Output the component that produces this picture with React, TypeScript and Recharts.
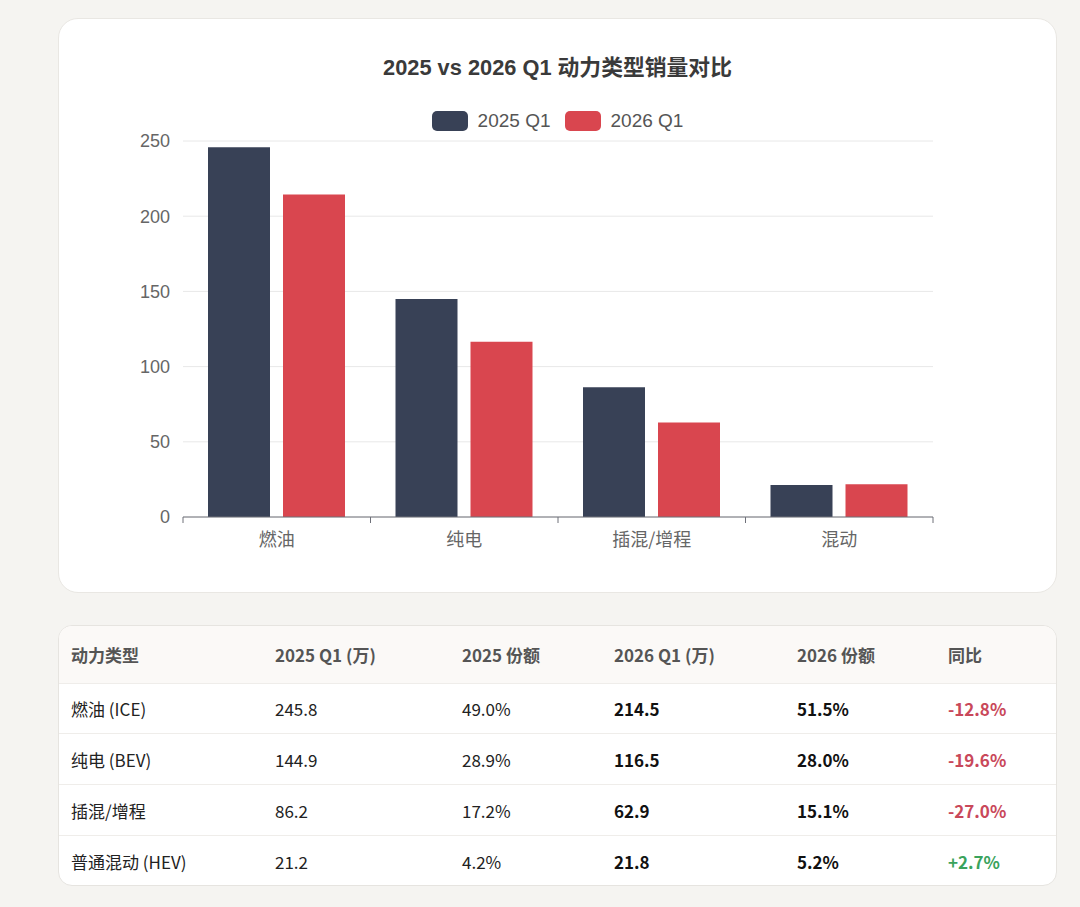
import React from 'react';
import { BarChart, Bar, XAxis, YAxis, CartesianGrid } from 'recharts';

const categories = ['燃油', '纯电', '插混/增程', '混动'];
const sales2025 = [245.8, 144.9, 86.2, 21.2];
const sales2026 = [214.5, 116.5, 62.9, 21.8];
const yTicks = [0, 50, 100, 150, 200, 250];

const tableNames = ['燃油 (ICE)', '纯电 (BEV)', '插混/增程', '普通混动 (HEV)'];
const share2025 = ['49.0%', '28.9%', '17.2%', '4.2%'];
const share2026 = ['51.5%', '28.0%', '15.1%', '5.2%'];
const yoy = ['-12.8%', '-19.6%', '-27.0%', '+2.7%'];
const headers = ['动力类型', '2025 Q1 (万)', '2025 份额', '2026 Q1 (万)', '2026 份额', '同比'];

const data = categories.map((c, i) => ({ name: c, q2025: sales2025[i], q2026: sales2026[i] }));

const C_DARK = '#384156';
const C_RED = '#d9464f';
const CARD_W = 999;
const CHART_H = 575;
const MARGIN = { top: 122, right: 125, bottom: 47, left: 64 };
const Y_W = 60;
const PLOT_W = CARD_W - MARGIN.left - MARGIN.right - Y_W;
const BAND = PLOT_W / categories.length;

const latin = "'Liberation Sans', 'Noto Sans CJK SC', sans-serif";
const cjk = "'Noto Sans CJK SC', 'Noto Sans', sans-serif";

const XTick = (props: any) => {
  const { x, y, payload, index } = props;
  const last = index === categories.length - 1;
  return (
    <g>
      <line x1={x - BAND / 2} x2={x - BAND / 2} y1={y} y2={y + 6} stroke="#6e7079" strokeWidth={1} />
      {last && <line x1={x + BAND / 2} x2={x + BAND / 2} y1={y} y2={y + 6} stroke="#6e7079" strokeWidth={1} />}
      <text x={x} y={y + 21} textAnchor="middle" dominantBaseline="central" fill="#666" fontSize={18} fontFamily={cjk}>
        {payload.value}
      </text>
    </g>
  );
};

const colX = [12, 216, 403, 555, 738, 889];

export default function App() {
  return (
    <div style={{ position: 'absolute', left: 0, top: 0, width: 1080, height: 907, background: '#f5f4f1', overflow: 'hidden' }}>
      <div style={{ position: 'absolute', left: 58, top: 18, width: CARD_W, height: CHART_H, background: '#fff', borderRadius: 20, border: '1px solid #e9e7e3', boxSizing: 'border-box' }}>
        <div style={{ position: 'absolute', left: 0, top: 34, width: CARD_W - 2, textAlign: 'center', fontFamily: latin, fontWeight: 700, fontSize: 21.8, color: '#3a3a3a', lineHeight: '30px' }}>
          2025 vs 2026 Q1 动力类型销量对比
        </div>
        <div style={{ position: 'absolute', left: 0, top: 91, width: CARD_W - 2, height: 22, display: 'flex', justifyContent: 'center', alignItems: 'center', fontFamily: latin, fontSize: 19, color: '#555' }}>
          <span style={{ display: 'inline-block', width: 36, height: 20, borderRadius: 5, background: C_DARK, marginRight: 10 }} />
          <span style={{ marginRight: 14 }}>2025 Q1</span>
          <span style={{ display: 'inline-block', width: 36, height: 20, borderRadius: 5, background: C_RED, marginRight: 10 }} />
          <span>2026 Q1</span>
        </div>
        <div style={{ position: 'absolute', left: 0, top: 0 }}>
          <BarChart width={CARD_W} height={CHART_H} data={data} margin={MARGIN} barGap={13} barSize={62}>
            <CartesianGrid vertical={false} stroke="#e8e8e8" />
            <YAxis
              width={Y_W}
              domain={[0, 250]}
              ticks={yTicks}
              axisLine={false}
              tickLine={false}
              tickMargin={7}
              tick={{ fill: '#666', fontSize: 18, fontFamily: latin }}
            />
            <XAxis
              dataKey="name"
              height={30}
              axisLine={{ stroke: '#6e7079' }}
              tickLine={false}
              tickSize={0}
              tickMargin={0}
              tick={<XTick />}
              interval={0}
            />
            <Bar dataKey="q2025" fill={C_DARK} isAnimationActive={false} />
            <Bar dataKey="q2026" fill={C_RED} isAnimationActive={false} />
          </BarChart>
        </div>
      </div>

      <div style={{ position: 'absolute', left: 58, top: 625, width: CARD_W, height: 261, background: '#fff', borderRadius: 14, border: '1px solid #e6e4e0', boxSizing: 'border-box', overflow: 'hidden', fontFamily: cjk, fontSize: 17 }}>
        <div style={{ position: 'absolute', left: 0, top: 0, width: CARD_W, height: 57, background: '#fbf9f7', borderBottom: '1px solid #efedea' }}>
          {headers.map((h, i) => (
            <div key={h} style={{ position: 'absolute', left: colX[i], top: 0, height: 57, lineHeight: '57px', fontWeight: 700, color: '#555' }}>{h}</div>
          ))}
        </div>
        {tableNames.map((n, r) => {
          const cells = [n, sales2025[r].toFixed(1), share2025[r], sales2026[r].toFixed(1), share2026[r], yoy[r]];
          return (
            <div key={n} style={{ position: 'absolute', left: 0, top: 57 + r * 51, width: CARD_W, height: 51, borderBottom: r < 3 ? '1px solid #efedea' : 'none', boxSizing: 'border-box' }}>
              {cells.map((c, i) => (
                <div key={i} style={{
                  position: 'absolute', left: colX[i], top: 0, height: 51, lineHeight: '51px',
                  fontWeight: i === 3 || i === 4 || i === 5 ? 700 : 400,
                  color: i === 5 ? (c.startsWith('+') ? '#3aa35c' : '#c9485a') : (i === 3 || i === 4 ? '#111' : '#222'),
                }}>{c}</div>
              ))}
            </div>
          );
        })}
      </div>
    </div>
  );
}
